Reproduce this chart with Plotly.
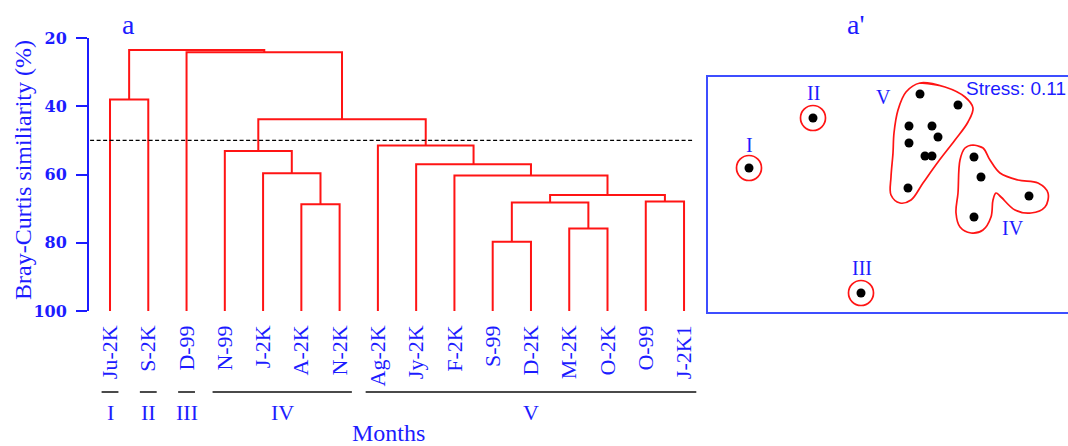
import plotly.graph_objects as go

W, H = 1068, 446

# ---------------- data ----------------
months = ["Ju-2K", "S-2K", "D-99", "N-99", "J-2K", "A-2K", "N-2K", "Ag-2K",
          "Jy-2K", "F-2K", "S-99", "D-2K", "M-2K", "O-2K", "O-99", "J-2K1"]

# agglomeration steps: (child a, child b, Bray-Curtis similarity %)
# ids < 16 are months, id 16 + k is the cluster formed at step k
merge_a = [10, 12, 5, 16, 14, 19, 9, 4, 8, 3, 7, 25, 0, 2, 28]
merge_b = [11, 13, 6, 17, 15, 20, 21, 18, 22, 23, 24, 26, 1, 27, 29]
merge_sim = [79.7, 75.8, 68.7, 68.2, 67.9, 66.0, 60.3, 59.6, 57.0, 53.1,
             51.5, 43.8, 38.0, 24.2, 23.5]
cut_level = 50

group_names = ["I", "II", "III", "IV", "V"]
group_first = [0, 1, 2, 3, 7]
group_last = [0, 1, 2, 6, 15]

# NMDS ordination scores by group
nmds_x = {
    "I": [-1.38],
    "II": [-0.74],
    "III": [-0.26],
    "IV": [0.87, 0.94, 1.42, 0.87],
    "V": [0.33, 0.71, 0.22, 0.45, 0.51, 0.22, 0.38, 0.45, 0.21],
}
nmds_y = {
    "I": [0.27],
    "II": [0.77],
    "III": [-0.98],
    "IV": [0.38, 0.18, -0.01, -0.22],
    "V": [1.01, 0.90, 0.69, 0.69, 0.58, 0.52, 0.39, 0.39, 0.07],
}
stress = 0.11

# enclosing outlines of the multi-member groups (ordination units)
hull_v_x = [0.33, 0.58, 0.78, 0.86, 0.81, 0.68, 0.51, 0.36, 0.24, 0.13,
            0.04, 0.04, 0.06, 0.07, 0.11, 0.19]
hull_v_y = [1.12, 1.08, 0.98, 0.87, 0.73, 0.55, 0.33, 0.12, -0.05, -0.08,
            0.00, 0.18, 0.42, 0.62, 0.85, 1.03]
hull_iv_x = [0.86, 0.96, 1.03, 1.13, 1.31, 1.51, 1.61, 1.58, 1.44, 1.28,
             1.14, 1.09, 1.06, 1.04, 0.96, 0.84, 0.73, 0.69, 0.71, 0.73, 0.78]
hull_iv_y = [0.50, 0.47, 0.35, 0.22, 0.15, 0.12, 0.02, -0.12, -0.18, -0.15,
             -0.02, 0.02, -0.05, -0.22, -0.35, -0.38, -0.32, -0.18, 0.02,
             0.35, 0.47]

# ---------------- styling ----------------
BLUE = "#1c1cff"
BOX_BLUE = "#3d4eff"
RED = "#ff1414"
SERIF = "Liberation Serif, Times New Roman, serif"


def px(x):
    return x / W


def py(y):
    return 1 - y / H


def note(x, y, text, size, family=SERIF, xref="paper", yref="paper",
         xanchor="center", angle=0):
    fig.add_annotation(x=x, y=y, xref=xref, yref=yref, text=text,
                       showarrow=False, xanchor=xanchor, yanchor="middle",
                       textangle=angle,
                       font=dict(family=family, size=size, color=BLUE))


fig = go.Figure()

# ---------------- dendrogram ----------------
n = len(months)
node_x = {i: float(i) for i in range(n)}
node_h = {i: 100.0 for i in range(n)}
seg_x, seg_y = [], []
for k, (a, b, s) in enumerate(zip(merge_a, merge_b, merge_sim)):
    xa, xb = node_x[a], node_x[b]
    seg_x += [xa, xa, xb, xb, None]
    seg_y += [node_h[a], s, s, node_h[b], None]
    node_x[n + k] = (xa + xb) / 2
    node_h[n + k] = s

fig.add_trace(go.Scatter(x=seg_x, y=seg_y, mode="lines",
                         line=dict(color=RED, width=2),
                         hoverinfo="skip", showlegend=False,
                         xaxis="x", yaxis="y"))

# similarity cut
fig.add_trace(go.Scatter(x=[-0.52, 15.21], y=[cut_level, cut_level], mode="lines",
                         line=dict(color="black", width=1.4, dash="4px,2.5px"),
                         hoverinfo="skip", showlegend=False,
                         xaxis="x", yaxis="y"))

# group bars and numerals under the month labels
for name, f, l in zip(group_names, group_first, group_last):
    pad = 0.22 if f == l else 0.32
    fig.add_shape(type="line", xref="x", yref="paper",
                  x0=f - pad, x1=l + pad, y0=py(392), y1=py(392),
                  line=dict(color="#4a4a4a", width=2))
    note((f + l) / 2, py(412), name, 22, xref="x")

note(px(388), py(433), "Months", 24)
note(px(23), py(170), "Bray-Curtis similiarity (%)", 24, angle=-90)
note(px(128), py(24), "a", 28)

# ---------------- NMDS ordination ----------------
for g in group_names:
    xs, ys = nmds_x[g], nmds_y[g]
    if len(xs) == 1:
        fig.add_trace(go.Scatter(x=xs, y=ys, mode="markers",
                                 marker=dict(symbol="circle-open", size=25,
                                             line=dict(color=RED, width=1.7),
                                             color=RED),
                                 hoverinfo="skip", showlegend=False,
                                 xaxis="x2", yaxis="y2"))
    fig.add_trace(go.Scatter(x=xs, y=ys, mode="markers",
                             marker=dict(symbol="circle", size=9, color="black"),
                             hoverinfo="skip", showlegend=False,
                             xaxis="x2", yaxis="y2"))

for hx, hy in [(hull_v_x, hull_v_y), (hull_iv_x, hull_iv_y)]:
    fig.add_trace(go.Scatter(x=hx + hx[:2], y=hy + hy[:2], mode="lines",
                             line=dict(color=RED, width=1.7, shape="spline",
                                       smoothing=1.0),
                             hoverinfo="skip", showlegend=False,
                             xaxis="x2", yaxis="y2"))

# group labels beside their outlines
label_pos = {"I": (-1.38, 0.50), "II": (-0.74, 1.02), "III": (-0.25, -0.73),
             "V": (-0.04, 0.98), "IV": (1.26, -0.33)}
for g, (lx, ly) in label_pos.items():
    note(lx, ly, g, 20, xref="x2", yref="y2")

note(px(964), py(88), f"Stress: {stress}", 19,
     family="Liberation Sans, Arial, sans-serif", xanchor="left")
note(px(855), py(24), "a'", 28)

# frame of the ordination panel (runs off the right edge)
fig.add_shape(type="rect", xref="paper", yref="paper",
              x0=px(707), x1=px(1085), y0=py(313), y1=py(76),
              line=dict(color=BOX_BLUE, width=2))

# ---------------- axes / layout ----------------
fig.update_layout(
    width=W, height=H, autosize=False,
    margin=dict(l=0, r=0, t=0, b=0, pad=0),
    paper_bgcolor="white", plot_bgcolor="rgba(0,0,0,0)",
    showlegend=False,
    xaxis=dict(domain=[px(89), px(700)], range=[-0.549, 15.417],
               tickmode="array", tickvals=list(range(n)), ticktext=months,
               tickangle=-90, ticks="", showline=False, showgrid=False,
               zeroline=False, ticklabelstandoff=9, automargin=False,
               tickfont=dict(family=SERIF, size=22, color=BLUE)),
    yaxis=dict(domain=[py(311), py(38)], range=[100, 20],
               tickmode="array", tickvals=[20, 40, 60, 80, 100],
               ticks="outside", ticklen=11, tickwidth=2, tickcolor=BLUE,
               showline=True, linecolor=BLUE, linewidth=2,
               showgrid=False, zeroline=False, ticklabelstandoff=6,
               automargin=False,
               tickfont=dict(family="DejaVu Serif, serif", size=16,
                             color=BLUE, weight="bold")),
    xaxis2=dict(domain=[px(707), 1.0], range=[-1.80, 1.81], anchor="y2",
                visible=False, showgrid=False, zeroline=False,
                automargin=False),
    yaxis2=dict(domain=[py(313), py(76)], range=[-1.18, 1.19], anchor="x2",
                visible=False, showgrid=False, zeroline=False,
                automargin=False),
)

fig.write_html("out.html")
